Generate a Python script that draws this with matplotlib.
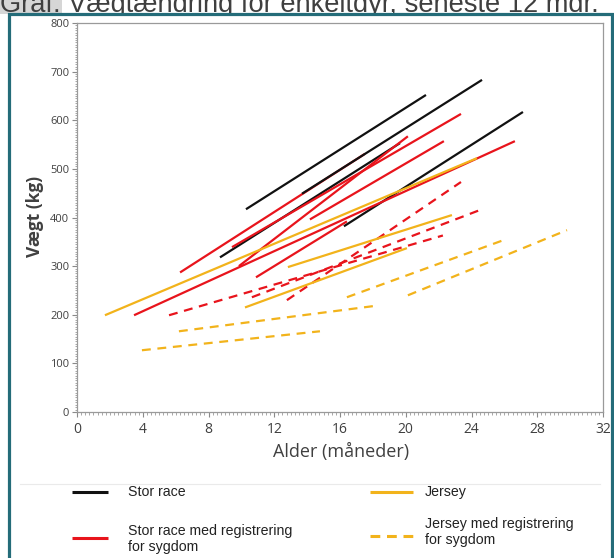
import matplotlib
matplotlib.use("Agg")
import matplotlib.pyplot as plt
from matplotlib.lines import Line2D
from matplotlib.patches import Rectangle
from matplotlib.ticker import MultipleLocator

# line segments per animal: [start, end] of age (months) and weight (kg)
stor_x = [[10.28, 21.23], [13.69, 24.64], [8.70, 19.65], [16.24, 27.13]]
stor_y = [[417, 652], [449, 683], [318, 553], [382, 617]]

stor_syg_x = [[6.27, 17.52], [3.47, 26.64], [10.89, 16.42], [9.85, 20.13], [14.17, 22.32], [9.43, 23.36]]
stor_syg_y = [[287, 531], [199, 557], [277, 392], [300, 567], [396, 557], [339, 613]]

stor_syg_dash_x = [[5.60, 22.26], [10.64, 24.64], [12.77, 23.36]]
stor_syg_dash_y = [[199, 363], [236, 417], [230, 473]]

jersey_x = [[1.70, 24.33], [10.22, 20.07], [12.83, 22.81]]
jersey_y = [[199, 522], [215, 337], [298, 405]]

jersey_syg_x = [[3.95, 14.78], [6.20, 18.31], [16.42, 25.91], [20.13, 29.81]]
jersey_syg_y = [[127, 166], [166, 219], [236, 353], [240, 374]]

x_ticks = [0, 4, 8, 12, 16, 20, 24, 28, 32]
y_ticks = [0, 100, 200, 300, 400, 500, 600, 700, 800]

title = "Graf: Vægtændring for enkeltdyr, seneste 12 mdr."
legend_labels = ["Stor race", "Jersey", "Stor race med registrering\nfor sygdom",
                 "Jersey med registrering\nfor sygdom"]

BLACK = "#111111"
RED = "#E8141C"
ORANGE = "#F2B31B"
TEAL = "#246C79"

W, H = 614, 558


def fx(px):
    return px / W


def fy(py):
    return 1 - py / H


fig = plt.figure(figsize=(W / 100, H / 100), dpi=100)

# title, cut off at the top like in the slide
fig.patches.append(Rectangle((0, fy(14)), fx(62), 14 / H, transform=fig.transFigure,
                             facecolor="#D6D6D6", edgecolor="none", zorder=0))
fig.text(fx(0), fy(12), title, fontsize=19.6, family="Liberation Sans",
         color="#3F3F3F", va="baseline", ha="left", zorder=0.5)

# teal frame around the chart
fig.patches.append(Rectangle((fx(9), fy(600)), fx(603), (600 - 14) / H, transform=fig.transFigure,
                             facecolor="white", edgecolor=TEAL, linewidth=2.3, zorder=1))
fig.add_artist(Line2D([fx(20), fx(600)], [fy(484), fy(484)], color="#EAEAEA", lw=0.8, zorder=1.5))

ax = fig.add_axes([fx(77), fy(412), fx(603) - fx(77), (412 - 23) / H])
ax.set_zorder(3)

lw = 1.6
for i in range(len(stor_syg_x)):
    ax.plot(stor_syg_x[i], stor_syg_y[i], color=RED, lw=lw, solid_capstyle="butt",
            zorder=1.9 if i == 0 else 2.2)
for i in range(len(stor_x)):
    ax.plot(stor_x[i], stor_y[i], color=BLACK, lw=lw, solid_capstyle="butt", zorder=2.1)
for i in range(len(stor_syg_dash_x)):
    ax.plot(stor_syg_dash_x[i], stor_syg_dash_y[i], color=RED, lw=lw, dashes=(4, 3), zorder=2.2)
for i in range(len(jersey_x)):
    ax.plot(jersey_x[i], jersey_y[i], color=ORANGE, lw=lw, solid_capstyle="butt", zorder=2.3)
for i in range(len(jersey_syg_x)):
    ax.plot(jersey_syg_x[i], jersey_syg_y[i], color=ORANGE, lw=lw, dashes=(4, 3), zorder=2.3)

ax.set_xlim(0, 32)
ax.set_ylim(0, 800)
ax.set_xticks(x_ticks)
ax.set_yticks(y_ticks)
ax.xaxis.set_minor_locator(MultipleLocator(0.25))
ax.yaxis.set_minor_locator(MultipleLocator(5))
for s in ax.spines.values():
    s.set_color("#9A9A9A")
    s.set_linewidth(0.9)
ax.tick_params(which="major", length=3.5, width=0.8, color="#8A8A8A")
ax.tick_params(which="minor", length=1.8, width=0.6, color="#9A9A9A")
ax.tick_params(axis="x", labelsize=10, labelcolor="#404040", pad=4)
ax.tick_params(axis="y", labelsize=8, labelcolor="#404040", pad=2)
for lab in ax.get_xticklabels() + ax.get_yticklabels():
    lab.set_family("Open Sans")

fig.text(fx(341), fy(452), "Alder (måneder)", fontsize=13, family="Open Sans",
         color="#404040", ha="center", va="center", zorder=4)
fig.text(fx(35), fy(216), "Vægt (kg)", fontsize=12.5, family="Open Sans", weight="bold",
         color="#404040", ha="center", va="center", rotation=90, zorder=4)

# legend below the chart
leg_lines = [(72, 108, 492, BLACK, "-"), (370, 413, 492, ORANGE, "-"),
             (72, 108, 538, RED, "-"), (370, 413, 536, ORANGE, "--")]
leg_text = [(128, 492), (425, 492), (128, 539), (425, 532)]
for (x0, x1, y, c, ls), (tx, ty), lab in zip(leg_lines, leg_text, legend_labels):
    ln = Line2D([fx(x0), fx(x1)], [fy(y), fy(y)], color=c, lw=2.2, solid_capstyle="butt", zorder=4)
    if ls == "--":
        ln.set_dashes((3.2, 2.2))
    fig.add_artist(ln)
    fig.text(fx(tx), fy(ty), lab, fontsize=10.2, family="Liberation Sans", color="#222222",
             ha="left", va="center", linespacing=1.2, zorder=4)

fig.savefig("out.png", dpi=100)
